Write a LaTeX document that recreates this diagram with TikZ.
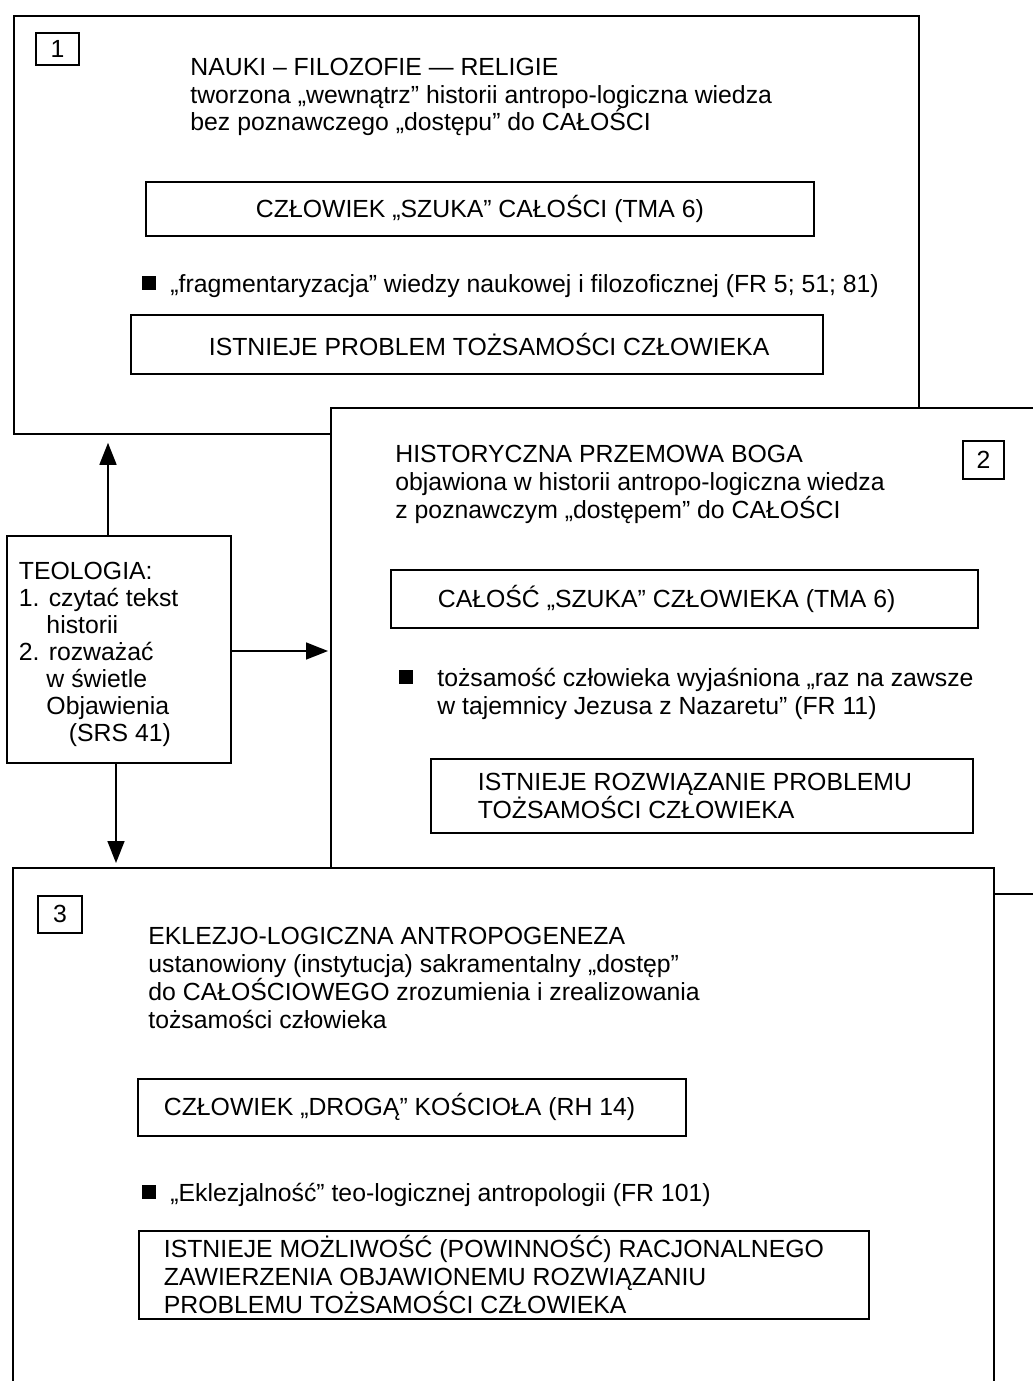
\documentclass[tikz,border=0pt]{standalone}
\usepackage{fontspec}
\setmainfont{Liberation Sans}
\usetikzlibrary{arrows.meta}
\newcommand\ml[2][14pt]{\vtop{\baselineskip=#1\lineskiplimit=-20pt\lineskip=0pt\halign{##\hfil\cr#2\crcr}}}
\newcommand\inbox[3]{\makebox[#1][l]{\hspace*{#2}#3}}
\begin{document}
\begin{tikzpicture}[x=0.5pt,y=-0.5pt,
  every node/.style={font=\fontsize{12.4}{14}\selectfont},
  bigbox/.style={draw, fill=white, line width=0.9pt, anchor=north west, inner sep=0pt},
  box/.style={draw, line width=0.9pt, anchor=north west, inner sep=0pt},
  txt/.style={anchor=base west, inner sep=0pt},
  bul/.style={fill=black, inner sep=0pt, minimum size=7pt},
  arr/.style={line width=0.8pt, -{Triangle[length=11pt,width=8.5pt]}},
]
\clip (0,0) rectangle (1033,1381);
\fill[white] (0,0) rectangle (1033,1381);

% ---------- box 1
\node[bigbox, minimum width=452.5pt, minimum height=209pt] (b1) at (13,15) {};
\node[box, minimum width=21.5pt, minimum height=16pt] (n1) at (35,32) {1};
\node[txt] (t1) at (190,75) {\ml{NAUKI – FILOZOFIE — RELIGIE\cr tworzona „wewnątrz” historii antropo-logiczna wiedza\cr bez poznawczego „dostępu” do CAŁOŚCI}};
\node[box, minimum height=27pt] (c1) at (145,181) {\makebox[334pt]{CZŁOWIEK „SZUKA” CAŁOŚCI (TMA 6)}};
\node[bul] (q1) at (149,283) {};
\node[txt] (f1) at (170,292) {„fragmentaryzacja” wiedzy naukowej i filozoficznej (FR 5; 51; 81)};
\node[box, minimum height=29.5pt] (p1) at (130,314) {\inbox{346pt}{39pt}{ISTNIEJE PROBLEM TOŻSAMOŚCI CZŁOWIEKA}};

% ---------- box 2
\node[bigbox, minimum width=400pt, minimum height=243pt] (b2) at (330,407) {};
\node[box, minimum width=20.5pt, minimum height=19pt] (n2) at (962,440) {2};
\node[txt] (t2) at (395,462) {\ml{HISTORYCZNA PRZEMOWA BOGA\cr objawiona w historii antropo-logiczna wiedza\cr z poznawczym „dostępem” do CAŁOŚCI}};
\node[box, minimum height=29pt] (c2) at (390,569) {\inbox{293.5pt}{23.5pt}{CAŁOŚĆ „SZUKA” CZŁOWIEKA (TMA 6)}};
\node[bul] (q2) at (406,677) {};
\node[txt] (f2) at (437,686) {\ml{tożsamość człowieka wyjaśniona „raz na zawsze\cr w tajemnicy Jezusa z Nazaretu” (FR 11)}};
\node[box, minimum height=37pt] (p2) at (430,758) {\inbox{271pt}{23.5pt}{\ml{ISTNIEJE ROZWIĄZANIE PROBLEMU\cr TOŻSAMOŚCI CZŁOWIEKA}}};

% ---------- box 3
\node[bigbox, minimum width=490.5pt, minimum height=300pt] (b3) at (12,867) {};
\node[box, minimum width=22pt, minimum height=18.5pt] (n3) at (37,895) {3};
\node[txt] (t3) at (148,944) {\ml{EKLEZJO-LOGICZNA ANTROPOGENEZA\cr ustanowiony (instytucja) sakramentalny „dostęp”\cr do CAŁOŚCIOWEGO zrozumienia i zrealizowania\cr tożsamości człowieka}};
\node[box, minimum height=28.5pt] (c3) at (137,1078) {\inbox{274pt}{13pt}{CZŁOWIEK „DROGĄ” KOŚCIOŁA (RH 14)}};
\node[bul] (q3) at (149,1192) {};
\node[txt] (f3) at (170,1201) {„Eklezjalność” teo-logicznej antropologii (FR 101)};
\node[box, minimum height=44pt] (p3) at (138,1230) {\inbox{365pt}{12.5pt}{\ml{ISTNIEJE MOŻLIWOŚĆ (POWINNOŚĆ) RACJONALNEGO\cr ZAWIERZENIA OBJAWIONEMU ROZWIĄZANIU\cr PROBLEMU TOŻSAMOŚCI CZŁOWIEKA}}};

% ---------- teologia
\node[bigbox, minimum height=113.5pt] (teo) at (6,535) {\inbox{112pt}{6pt}{\raisebox{-2.5pt}[\height][\depth]{\ml[13.5pt]{TEOLOGIA:\cr 1. czytać tekst\cr \hspace*{13.8pt}historii\cr 2. rozważać\cr \hspace*{13.8pt}w świetle\cr \hspace*{13.8pt}Objawienia\cr \hspace*{25pt}(SRS 41)}}}};

% ---------- arrows
\coordinate (ux) at (108,0);
\coordinate (ry) at (0,651);
\coordinate (dx) at (116,0);
\draw[arr, shorten >=4pt] (teo.north -| ux) -- (b1.south -| ux);
\draw[arr, shorten >=1pt] (teo.east |- ry) -- (b2.west |- ry);
\draw[arr, shorten >=2pt] (teo.south -| dx) -- (b3.north -| dx);
\end{tikzpicture}
\end{document}
